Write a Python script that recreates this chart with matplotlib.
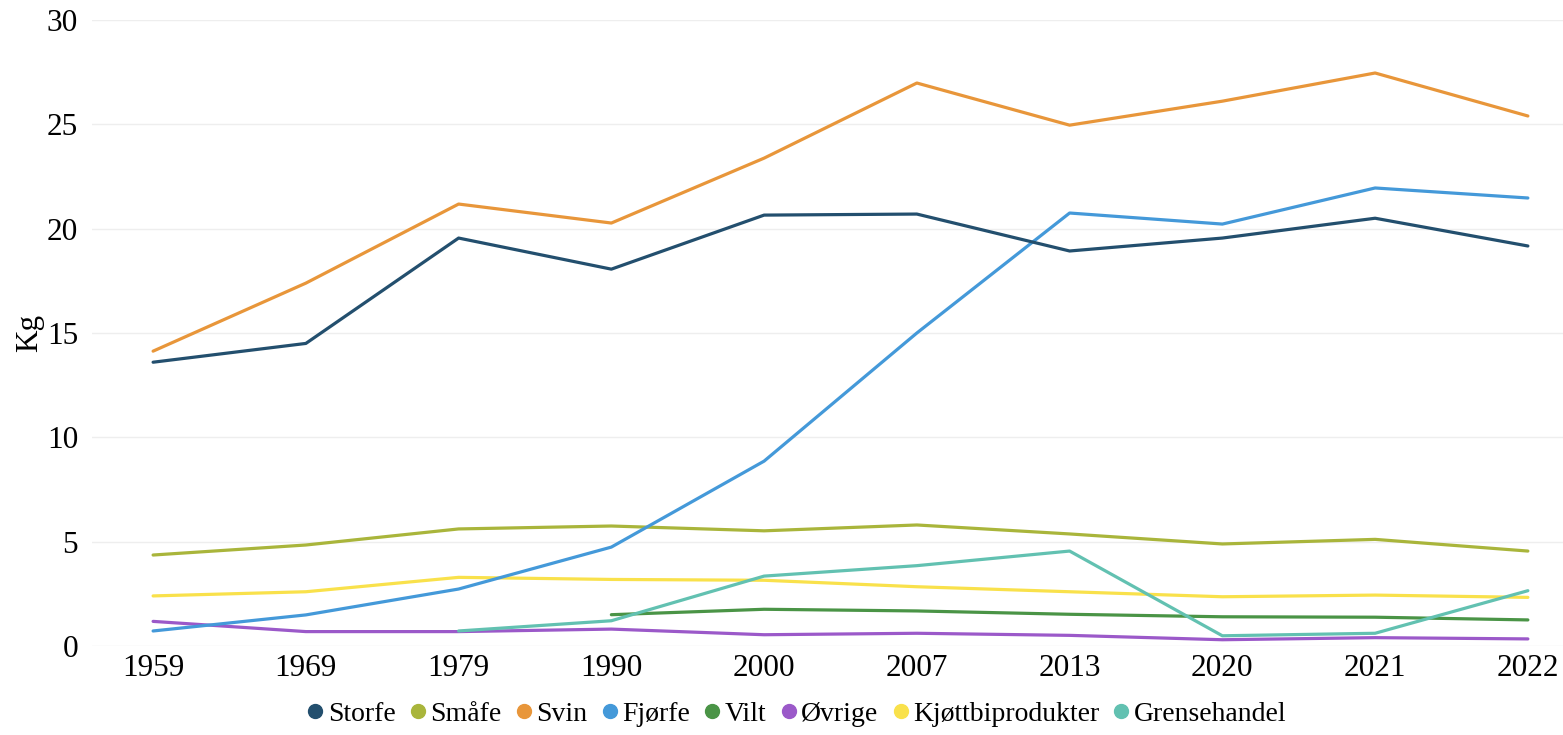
import matplotlib
matplotlib.use("Agg")
import matplotlib.pyplot as plt
from matplotlib.lines import Line2D
import numpy as np

years = ["1959", "1969", "1979", "1990", "2000", "2007", "2013", "2020", "2021", "2022"]

storfe = [13.6, 14.5, 19.55, 18.06, 20.65, 20.7, 18.93, 19.55, 20.5, 19.17]
smaafe = [4.36, 4.84, 5.61, 5.75, 5.52, 5.80, 5.37, 4.89, 5.11, 4.55]
svin = [14.13, 17.39, 21.18, 20.27, 23.38, 26.98, 24.96, 26.11, 27.46, 25.4]
fjorfe = [0.72, 1.49, 2.73, 4.74, 8.86, 15.0, 20.75, 20.22, 21.95, 21.47]
vilt = [None, None, None, 1.50, 1.76, 1.68, 1.52, 1.40, 1.38, 1.25]
ovrige = [1.18, 0.69, 0.69, 0.81, 0.54, 0.61, 0.51, 0.30, 0.40, 0.34]
kjottbi = [2.40, 2.60, 3.29, 3.19, 3.15, 2.84, 2.60, 2.36, 2.44, 2.33]
grense = [None, None, 0.72, 1.21, 3.35, 3.85, 4.55, 0.49, 0.61, 2.65]

names = ["Storfe", "Småfe", "Svin", "Fjørfe", "Vilt", "Øvrige", "Kjøttbiprodukter", "Grensehandel"]
colors = ["#234f6e", "#a9b53b", "#e8963a", "#4499d9", "#4a9446", "#9b59c9", "#f9e14b", "#62c1b1"]
series = [storfe, smaafe, svin, fjorfe, vilt, ovrige, kjottbi, grense]

plt.rcParams['font.family'] = ['Liberation Serif', 'DejaVu Serif']

fig = plt.figure(figsize=(15.63, 7.35), dpi=100)
ax = fig.add_axes([92/1563, 1 - 646/735, (1563 - 92)/1563, (646 - 20)/735])

x = np.arange(len(years))
order = [6, 5, 4, 1, 7, 3, 0, 2]
for i in order:
    vals = np.array([np.nan if v is None else v for v in series[i]], dtype=float)
    ax.plot(x, vals, color=colors[i], lw=2.3, solid_capstyle='round', solid_joinstyle='round', zorder=3)

ax.set_ylim(0, 30)
ax.set_xlim(-0.4, 9.23)
ax.set_yticks([0, 5, 10, 15, 20, 25, 30])
ax.set_xticks(x)
ax.set_xticklabels(years)
ax.tick_params(axis='both', length=0, labelsize=22.5, colors='black')
ax.tick_params(axis='x', pad=6)
ax.tick_params(axis='y', pad=10)
ax.grid(axis='y', color='#eeeeee', lw=1)
ax.set_axisbelow(True)
for s in ax.spines.values():
    s.set_visible(False)
ax.set_ylabel("Kg", fontsize=22.5, labelpad=2)

handles = [Line2D([], [], marker='o', linestyle='', color=c, markersize=10) for c in colors]
fig.legend(handles, names, loc='center', bbox_to_anchor=(794/1563, 1 - 714/735), ncol=8,
           frameon=False, fontsize=20, handletextpad=-0.05, columnspacing=0.3, handlelength=1.0,
           borderpad=0.0)

fig.savefig("out.png", dpi=100)
